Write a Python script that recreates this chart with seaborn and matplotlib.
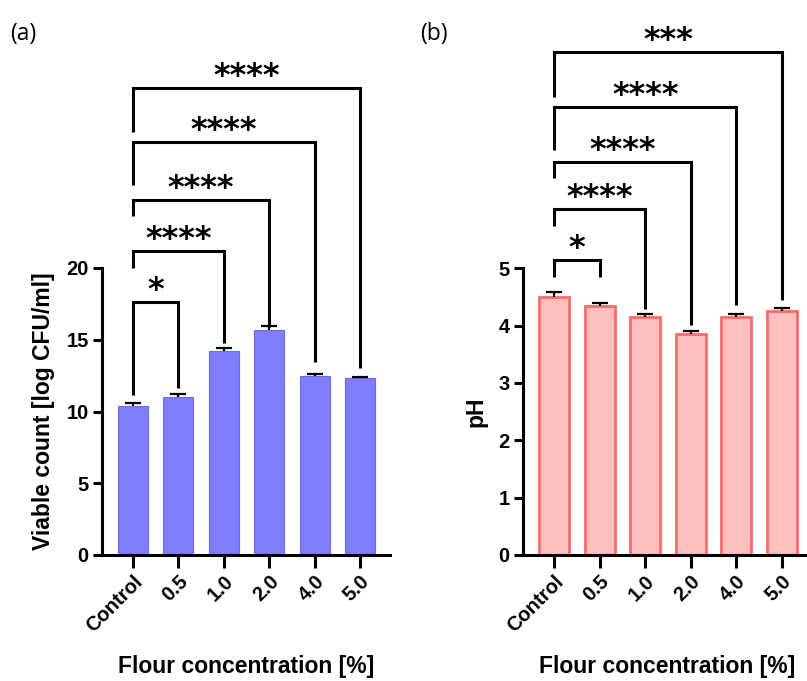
import numpy as np
import pandas as pd
import matplotlib
matplotlib.use("Agg")
import matplotlib.pyplot as plt
import seaborn as sns

# ---- data -------------------------------------------------------------
concentrations = ["Control", "0.5", "1.0", "2.0", "4.0", "5.0"]

viable_count = [10.4, 11.0, 14.2, 15.7, 12.5, 12.3]      # log CFU/ml
viable_sd = [0.2, 0.2, 0.2, 0.25, 0.1, 0.1]

ph_values = [4.5, 4.35, 4.15, 3.85, 4.15, 4.25]
ph_sd = [0.08, 0.05, 0.05, 0.06, 0.05, 0.06]

# comparisons against Control (group index, significance label)
compare_to = [1, 2, 3, 4, 5]
viable_sig = ["*", "****", "****", "****", "****"]
ph_sig = ["*", "****", "****", "****", "***"]

# ---- style ------------------------------------------------------------
sns.set_theme(style="ticks")
plt.rcParams["font.family"] = ["Liberation Sans", "DejaVu Sans"]
plt.rcParams["font.weight"] = "bold"
plt.rcParams["text.color"] = "black"
plt.rcParams["axes.labelcolor"] = "black"

LW = 2.2
fig = plt.figure(figsize=(8.07, 6.81), dpi=100)
W, H = 807, 681


def px_axes(left, right, bottom, top):
    return fig.add_axes([left / W, 1 - bottom / H, (right - left) / W, (bottom - top) / H])


def draw_panel(ax, values, sd, fill, edge, edge_lw, ymax, yticks, ylabel,
               sig, tops, left_drop, right_drop):
    df = pd.DataFrame({"conc": concentrations, "val": values})
    sns.barplot(data=df, x="conc", y="val", ax=ax, color=fill, saturation=1,
                width=0.66, edgecolor=edge, linewidth=edge_lw, errorbar=None,
                zorder=2)
    x = np.arange(len(values))
    # one-sided (upper) error bars
    eb = ax.errorbar(x, values, yerr=[np.zeros(len(sd)), sd], fmt="none",
                     ecolor="black", elinewidth=1.6, capsize=6, capthick=1.6,
                     zorder=3)
    eb.lines[1][0].set_visible(False)
    ax.set_xlim(-0.68, 5.66)
    ax.set_ylim(0, ymax)
    ax.set_yticks(yticks)
    ax.set_yticklabels([str(t) for t in yticks], fontsize=14.5, fontweight="bold")
    ax.set_xticks(x)
    ax.set_xticklabels(concentrations, rotation=45, ha="right", va="top",
                       rotation_mode="anchor", fontsize=14.5, fontweight="bold")
    ax.tick_params(axis="x", length=9, width=LW, pad=3, colors="black")
    ax.tick_params(axis="y", length=6.5, width=LW, pad=3, colors="black")
    for s in ["top", "right"]:
        ax.spines[s].set_visible(False)
    for s in ["left", "bottom"]:
        ax.spines[s].set_linewidth(LW)
        ax.spines[s].set_color("black")
    ax.set_ylabel(ylabel, fontsize=16.5, fontweight="bold", labelpad=8,
                  color="black")
    ax.set_xlabel("Flour concentration [%]", fontsize=16.5, fontweight="bold",
                  labelpad=14, color="black")
    # significance brackets
    for j, lab, top, ld, rd in zip(compare_to, sig, tops, left_drop, right_drop):
        ax.plot([0, 0, j, j], [ld, top, top, rd], color="black", lw=LW,
                clip_on=False, solid_capstyle="butt", solid_joinstyle="miter",
                zorder=4)
        ax.annotate(lab, xy=(j / 2, top), xytext=(0, 2), textcoords="offset points",
                    ha="center", va="baseline", fontsize=23, color="black",
                    fontfamily="DejaVu Sans", fontweight="bold",
                    annotation_clip=False)


ax_a = px_axes(102, 390, 555, 268)
draw_panel(ax_a, viable_count, viable_sd, "#7f7fff", "#6b6bf2", 0.8, 20,
           [0, 5, 10, 15, 20], "Viable count [log CFU/ml]", viable_sig,
           tops=[17.63, 21.18, 24.74, 28.78, 32.54],
           left_drop=[11.15, 20.0, 23.62, 25.78, 29.48],
           right_drop=[11.64, 14.77, 15.89, 13.45, 13.03])

ax_b = px_axes(523, 812, 555, 268.3)
draw_panel(ax_b, ph_values, ph_sd, "#ffbfbf", "#ff6b6b", 2.0, 5,
           [0, 1, 2, 3, 4, 5], "pH", ph_sig,
           tops=[5.15, 6.04, 6.86, 7.81, 8.77],
           left_drop=[4.85, 5.74, 6.58, 7.06, 7.99],
           right_drop=[4.85, 4.29, 4.01, 4.36, 4.45])

fig.text(10 / W, 1 - 34 / H, "(a)", fontsize=16.5, fontweight="normal",
         fontfamily="Open Sans", va="center", ha="left", color="black")
fig.text(420 / W, 1 - 34 / H, "(b)", fontsize=16.5, fontweight="normal",
         fontfamily="Open Sans", va="center", ha="left", color="black")

fig.savefig("out.png", dpi=100)
